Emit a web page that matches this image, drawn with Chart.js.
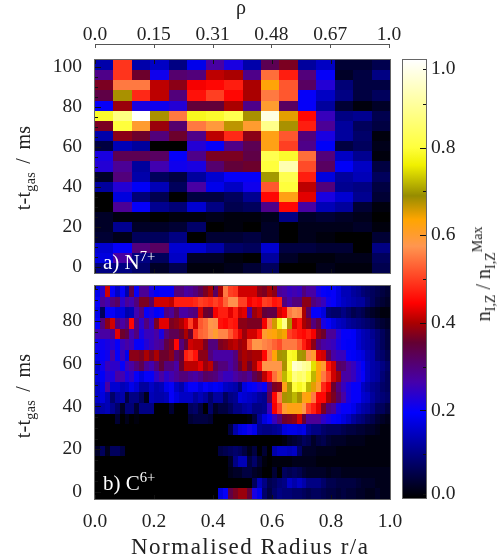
<!DOCTYPE html>
<html>
<head>
<meta charset="utf-8">
<script src="https://cdn.jsdelivr.net/npm/chart.js@4/dist/chart.umd.min.js"></script>
<style>
  html, body { margin: 0; padding: 0; background: #fff; }
  #page { position: relative; width: 498px; height: 555px; overflow: hidden; font-family: "Liberation Serif", serif; color: #222; }
  canvas { position: absolute; left: 0; }
  .lbl { position: absolute; white-space: nowrap; line-height: 1; }
  .rot { transform: translate(-50%, -50%) rotate(-90deg); font-size: 20px; }
  .wide { word-spacing: 3px; letter-spacing: 0.3px; }
  .panel { color: #fff; font-size: 21px; }
  sub, sup { font-size: 70%; line-height: 0; }
</style>
</head>
<body>
<div id="page">
  <canvas id="rhoAxis" width="498" height="60" style="top:0"></canvas>
  <canvas id="panelA" width="498" height="233" style="top:50px"></canvas>
  <canvas id="panelB" width="498" height="279" style="top:276px"></canvas>
  <canvas id="colorBar" width="103" height="460" style="top:50px;left:395px"></canvas>
  <div class="lbl rot wide" style="left:23px;top:168px">t-t<sub>gas</sub> / ms</div>
  <div class="lbl rot wide" style="left:23px;top:396px">t-t<sub>gas</sub> / ms</div>
  <div class="lbl rot" style="left:483px;top:274px">n<sub>I,Z</sub> / n<sub>I,Z</sub><sup>Max</sup></div>
  <div class="lbl panel" style="left:103px;top:252px">a) N<sup>7+</sup></div>
  <div class="lbl panel" style="left:103px;top:473px">b) C<sup>6+</sup></div>
  <div class="lbl" style="left:131px;top:535px;font-size:23px;letter-spacing:1.5px">Normalised Radius r/a</div>
  <div class="lbl" style="left:236px;top:-3px;font-size:20px">ρ</div>
</div>
<script>
/* ─── Data ──────────────────────────────────────────────────────────────── */

const rhoLabels = ['0.0', '0.15', '0.31', '0.48', '0.67', '1.0'];
const radiusTicks = [0, 0.2, 0.4, 0.6, 0.8, 1];
const timeTicksA = [0, 5, 10, 15, 20, 25, 30, 35, 40, 45, 50, 55, 60, 65, 70, 75, 80, 85, 90, 95, 100];
const timeTicksB = [0, 5, 10, 15, 20, 25, 30, 35, 40, 45, 50, 55, 60, 65, 70, 75, 80, 85, 90, 95];
const barTicks = [0.01, 0.1, 0.2, 0.3, 0.4, 0.5, 0.6, 0.7, 0.8, 0.9, 0.98];

// row centres in ms, top row first
const n7Times = [100.7, 95.7, 90.6, 85.6, 80.5, 75.5, 70.4, 65.3, 60.3, 55.2, 50.2, 45.1, 40, 35, 29.9, 24.8, 19.8, 14.7, 9.6, 4.6, -0.5];
const c6Times = [93.9, 88.9, 83.9, 78.9, 74, 69, 64, 59, 54, 49, 44.1, 39.1, 34.1, 29.1, 24.2, 19.2, 14.2, 9.2, 4.2, -0.8];

const n7Rows = [
  [.13,.49,.13,.15,.10,.18,.27,.22,.13,.33,.37,.12,.15,.04,.04,.06],
  [.29,.49,.36,.21,.31,.30,.41,.40,.29,.54,.47,.30,.20,.03,.05,.10],
  [.37,.55,.55,.41,.38,.44,.45,.47,.40,.63,.52,.32,.23,.09,.05,.05],
  [.34,.68,.48,.41,.30,.46,.50,.45,.40,.55,.52,.20,.15,.10,.05,.07],
  [.20,.39,.22,.21,.23,.35,.35,.40,.29,.60,.32,.20,.12,.04,.01,.03],
  [.79,.87,1.0,.68,.55,.78,.79,.82,.68,.97,.65,.45,.25,.10,.11,.06],
  [.37,.80,.60,.39,.31,.55,.59,.67,.60,.88,.68,.47,.28,.12,.07,.05],
  [.13,.38,.36,.30,.36,.29,.41,.48,.38,.62,.52,.30,.22,.12,.08,.01],
  [.05,.14,.12,.00,.00,.23,.20,.29,.33,.62,.50,.29,.19,.05,.07,.02],
  [.22,.33,.33,.32,.20,.29,.37,.37,.34,.82,.79,.54,.30,.15,.11,.01],
  [.23,.28,.12,.26,.21,.22,.31,.35,.36,.80,.92,.51,.32,.19,.15,.05],
  [.03,.30,.13,.07,.05,.12,.16,.20,.20,.70,.82,.47,.17,.12,.14,.07],
  [.12,.23,.19,.14,.07,.27,.18,.15,.21,.52,.80,.41,.30,.11,.10,.05],
  [.00,.17,.09,.06,.00,.05,.05,.07,.11,.45,.62,.43,.22,.16,.11,.04],
  [.00,.28,.20,.11,.09,.16,.10,.06,.07,.29,.45,.27,.14,.12,.04,.01],
  [.03,.01,.01,.00,.01,.01,.02,.01,.01,.02,.10,.03,.04,.03,.02,.00],
  [.03,.11,.03,.03,.04,.08,.00,.01,.00,.03,.00,.02,.02,.02,.03,.01],
  [.04,.02,.07,.07,.10,.00,.04,.04,.05,.03,.00,.02,.01,.00,.00,.04],
  [.16,.20,.30,.32,.16,.16,.13,.08,.07,.16,.05,.05,.04,.04,.00,.10],
  [.17,.27,.10,.07,.15,.03,.03,.01,.00,.12,.03,.01,.01,.02,.02,.07],
  [.10,.10,.08,.03,.06,.01,.01,.02,.04,.07,.00,.00,.02,.01,.01,.06]
];

const c6Rows = [
  [.18,.24,.42,.20,.15,.20,.13,.34,.20,.28,.28,.22,.19,.20,.20,.20,.30,.30,.27,.28,.30,.33,.37,.40,.32,.40,.55,.50,.49,.42,
   .42,.42,.42,.38,.37,.40,.38,.28,.27,.25,.26,.25,.30,.27,.27,.22,.20,.19,.20,.17,.14,.14,.12,.11,.09,.08,.07,.06,.05,.04],
  [.20,.28,.26,.30,.32,.24,.28,.26,.30,.37,.37,.32,.42,.42,.42,.41,.47,.47,.47,.47,.48,.50,.49,.48,.50,.48,.53,.57,.57,.50,
   .50,.44,.46,.45,.50,.49,.46,.47,.30,.27,.30,.30,.38,.38,.30,.28,.25,.21,.20,.17,.15,.14,.13,.12,.12,.09,.07,.05,.04,.03],
  [.18,.07,.20,.20,.17,.17,.13,.14,.26,.30,.20,.22,.19,.20,.30,.28,.33,.27,.27,.29,.30,.42,.36,.35,.44,.47,.47,.43,.47,.42,
   .43,.28,.39,.41,.35,.34,.34,.42,.44,.55,.57,.56,.40,.32,.20,.20,.17,.09,.08,.08,.10,.08,.06,.07,.06,.04,.03,.02,.01,.01],
  [.20,.30,.38,.42,.30,.27,.30,.45,.30,.24,.30,.25,.37,.43,.43,.37,.38,.40,.43,.50,.42,.52,.54,.58,.57,.46,.45,.47,.46,.38,
   .38,.37,.37,.37,.44,.55,.66,.78,.88,.68,.43,.46,.40,.38,.30,.34,.22,.20,.17,.15,.14,.12,.11,.10,.09,.08,.07,.05,.04,.03],
  [.26,.27,.27,.29,.43,.36,.34,.26,.30,.22,.25,.25,.27,.22,.30,.33,.33,.36,.40,.36,.49,.53,.54,.57,.60,.56,.56,.52,.48,.43,
   .39,.42,.42,.46,.60,.62,.63,.65,.64,.50,.48,.46,.45,.47,.44,.38,.36,.28,.28,.23,.20,.20,.19,.16,.14,.13,.11,.09,.07,.05],
  [.21,.21,.22,.23,.20,.25,.27,.25,.20,.20,.23,.25,.27,.28,.34,.37,.45,.30,.35,.42,.41,.41,.37,.30,.30,.37,.38,.40,.41,.39,
   .40,.52,.58,.58,.56,.55,.53,.51,.55,.55,.55,.52,.47,.43,.38,.30,.27,.26,.25,.22,.20,.19,.19,.16,.14,.13,.12,.09,.07,.05],
  [.18,.20,.21,.27,.20,.25,.18,.38,.38,.37,.40,.37,.40,.36,.36,.38,.32,.35,.47,.49,.46,.38,.38,.30,.27,.27,.27,.27,.30,.38,
   .40,.39,.40,.40,.45,.55,.63,.68,.70,.79,.78,.70,.68,.57,.60,.43,.42,.33,.27,.25,.25,.20,.19,.18,.17,.14,.13,.09,.08,.06],
  [.16,.21,.25,.24,.24,.20,.25,.27,.30,.33,.28,.26,.30,.35,.30,.30,.27,.36,.41,.41,.41,.43,.39,.41,.33,.30,.30,.27,.30,.36,
   .40,.36,.40,.46,.58,.58,.58,.58,.68,.80,.95,.93,.90,.88,.75,.63,.60,.46,.42,.32,.31,.27,.25,.22,.19,.15,.13,.12,.10,.08],
  [.17,.19,.23,.22,.27,.26,.22,.24,.20,.17,.20,.20,.24,.27,.24,.26,.28,.30,.30,.28,.27,.29,.32,.31,.30,.27,.25,.25,.27,.29,
   .30,.28,.33,.36,.41,.46,.54,.60,.72,.78,.87,.84,.86,.80,.72,.63,.55,.50,.42,.39,.27,.27,.25,.22,.20,.15,.13,.12,.09,.07],
  [.15,.18,.27,.16,.16,.14,.15,.18,.16,.12,.12,.15,.13,.14,.18,.20,.15,.13,.17,.20,.20,.17,.20,.18,.19,.18,.15,.14,.13,.09,
   .17,.19,.20,.22,.20,.30,.37,.38,.62,.70,.80,.78,.80,.72,.65,.60,.48,.44,.36,.30,.25,.22,.20,.20,.15,.13,.11,.10,.08,.07],
  [.15,.17,.14,.08,.12,.13,.05,.10,.10,.07,.02,.14,.13,.13,.14,.20,.17,.15,.15,.15,.12,.14,.12,.08,.12,.12,.07,.10,.11,.17,
   .16,.15,.14,.12,.11,.33,.45,.55,.68,.70,.72,.68,.62,.63,.55,.45,.45,.40,.37,.32,.27,.22,.20,.20,.16,.15,.12,.10,.09,.08],
  [.12,.13,.14,.11,.08,.03,.09,.09,.04,.10,.10,.10,.00,.00,.00,.04,.00,.00,.00,.07,.08,.05,.00,.08,.03,.05,.05,.07,.10,.10,
   .12,.13,.10,.10,.11,.25,.44,.50,.60,.62,.62,.62,.58,.50,.47,.43,.37,.30,.28,.22,.20,.20,.18,.15,.13,.12,.10,.07,.07,.05],
  [.00,.00,.00,.00,.04,.00,.02,.00,.01,.00,.00,.00,.00,.00,.00,.00,.00,.00,.00,.04,.05,.05,.05,.04,.00,.00,.00,.00,.00,.00,
   .00,.01,.05,.12,.17,.20,.25,.30,.36,.37,.38,.42,.35,.28,.28,.28,.24,.22,.20,.19,.17,.15,.12,.10,.09,.07,.06,.04,.03,.02],
  [.00,.00,.00,.00,.00,.00,.00,.00,.00,.00,.00,.00,.00,.00,.00,.00,.00,.00,.00,.00,.00,.00,.00,.00,.00,.00,.00,.05,.13,.17,
   .18,.21,.18,.11,.10,.10,.11,.12,.17,.18,.18,.17,.18,.12,.10,.10,.08,.07,.07,.07,.06,.05,.05,.04,.04,.03,.03,.02,.01,.01],
  [.00,.00,.00,.00,.00,.00,.00,.00,.00,.00,.00,.00,.00,.00,.00,.00,.00,.00,.00,.00,.00,.00,.00,.00,.00,.00,.00,.00,.00,.00,
   .00,.00,.00,.00,.00,.00,.00,.00,.01,.03,.04,.05,.07,.06,.03,.05,.06,.04,.03,.03,.03,.02,.02,.02,.02,.01,.01,.01,.01,.01],
  [.03,.07,.02,.07,.07,.05,.00,.00,.00,.00,.00,.00,.00,.00,.00,.00,.00,.00,.00,.00,.00,.00,.00,.00,.00,.05,.06,.07,.08,.07,
   .05,.02,.05,.00,.04,.00,.13,.15,.15,.14,.15,.08,.03,.03,.03,.02,.02,.02,.02,.01,.01,.01,.01,.01,.01,.01,.01,.01,.01,.01],
  [.00,.00,.00,.00,.00,.00,.00,.00,.00,.00,.00,.00,.00,.00,.00,.00,.00,.00,.00,.00,.00,.00,.00,.00,.00,.00,.00,.03,.10,.14,
   .14,.05,.08,.04,.01,.00,.01,.01,.01,.01,.02,.02,.02,.02,.02,.01,.01,.01,.01,.01,.01,.01,.01,.01,.01,.01,.01,.01,.01,.01],
  [.00,.00,.00,.00,.00,.00,.00,.00,.00,.00,.00,.00,.00,.00,.00,.00,.00,.00,.00,.00,.00,.00,.00,.00,.00,.00,.00,.02,.03,.03,
   .05,.05,.03,.02,.00,.00,.04,.00,.07,.06,.07,.06,.04,.03,.03,.03,.03,.02,.03,.03,.02,.02,.02,.02,.02,.02,.02,.02,.02,.02],
  [.00,.00,.00,.00,.00,.00,.00,.00,.00,.00,.00,.00,.00,.00,.00,.00,.00,.00,.00,.00,.00,.00,.00,.00,.00,.00,.00,.00,.00,.00,
   .00,.00,.07,.14,.10,.06,.07,.09,.10,.15,.13,.15,.13,.10,.10,.10,.08,.06,.06,.05,.05,.05,.05,.04,.03,.03,.03,.02,.02,.02],
  [.00,.00,.00,.00,.00,.00,.00,.00,.00,.00,.00,.00,.00,.00,.00,.00,.00,.00,.00,.00,.00,.00,.00,.00,.00,.17,.20,.34,.37,.39,
   .39,.35,.22,.18,.08,.05,.08,.10,.09,.09,.08,.08,.07,.06,.07,.07,.06,.05,.05,.04,.05,.04,.04,.03,.03,.02,.02,.03,.02,.02]
];

// colour table
const cmapLevels = [0, 0.195, 0.265, 0.355, 0.4, 0.445, 0.575, 0.636, 0.69, 0.76, 0.8, 1];
const cmapColors = [[0,0,0],[0,0,255],[70,0,170],[100,0,50],[170,0,0],[255,0,0],[255,150,80],[255,165,0],[150,140,0],[240,240,0],[255,255,60],[255,255,255]];

/* ─── Helpers ───────────────────────────────────────────────────────────── */

const tickFont = { family: '"Liberation Serif", serif', size: 19.5 };
const textCol = '#222';
const frameCol = '#666';

function cmap(v) {
    let i = 1;
    while (i < cmapLevels.length - 1 && v > cmapLevels[i]) i++;
    const f = Math.min(1, Math.max(0, (v - cmapLevels[i - 1]) / (cmapLevels[i] - cmapLevels[i - 1])));
    const a = cmapColors[i - 1], b = cmapColors[i];
    return `rgb(${a[0] + (b[0] - a[0]) * f},${a[1] + (b[1] - a[1]) * f},${a[2] + (b[2] - a[2]) * f})`;
}

function toCells(rows, times) {
    const pts = [];
    rows.forEach((row, i) => row.forEach((v, j) => {
        pts.push({ x: (j + 0.5) / row.length, y: times[i], v });
    }));
    return pts;
}

// paints one rectangle per point, through the chart's own scales
const heatCells = {
    id: 'heatCells',
    beforeDatasetsDraw(chart, args, opts) {
        if (!opts.rows) return;
        const { ctx, chartArea: a, scales: { x, y } } = chart;
        const dx = 0.5 / opts.rows[0].length, dy = opts.step / 2;
        ctx.save();
        ctx.beginPath();
        ctx.rect(a.left, a.top, a.right - a.left, a.bottom - a.top);
        ctx.clip();
        chart.data.datasets[0].data.forEach(p => {
            const l = Math.round(x.getPixelForValue(p.x - dx)), r = Math.round(x.getPixelForValue(p.x + dx));
            const t = Math.round(y.getPixelForValue(p.y + dy)), b = Math.round(y.getPixelForValue(p.y - dy));
            ctx.fillStyle = cmap(p.v);
            // one spare pixel downward, the next row paints over it
            ctx.fillRect(l, t, r - l, b - t + 1);
        });
        ctx.restore();
    }
};

// ticks that point inward, plus the frame round the plot
const innerTicks = {
    id: 'innerTicks',
    afterDatasetsDraw(chart, args, opts) {
        const { ctx, chartArea: a, scales } = chart;
        ctx.save();
        ctx.lineWidth = 1;
        ctx.strokeStyle = opts.color || '#111';
        ctx.beginPath();
        (opts.x || []).forEach(side => {
            const yy = side === 'top' ? a.top : a.bottom;
            const d = side === 'top' ? 4 : -4;
            scales.x.ticks.forEach(t => {
                const px = Math.round(scales.x.getPixelForValue(t.value)) + 0.5;
                ctx.moveTo(px, yy);
                ctx.lineTo(px, yy + d);
            });
        });
        if (opts.yStep) {
            const right = opts.ySide === 'right';
            scales.y.ticks.forEach(t => {
                const major = Math.abs(t.value / opts.yStep - Math.round(t.value / opts.yStep)) < 1e-6;
                const len = major ? 6 : 3;
                const py = Math.round(scales.y.getPixelForValue(t.value)) + 0.5;
                ctx.moveTo(right ? a.right : a.left, py);
                ctx.lineTo(right ? a.right - len : a.left + len, py);
            });
        }
        ctx.stroke();
        if (opts.frame) {
            ctx.strokeStyle = frameCol;
            ctx.strokeRect(a.left - 0.5, a.top - 0.5, a.right - a.left + 1, a.bottom - a.top + 1);
        }
        ctx.restore();
    }
};

Chart.register(heatCells, innerTicks);

function baseOpts() {
    return {
        responsive: false,
        animation: false,
        events: [],
        plugins: { legend: { display: false }, tooltip: { enabled: false } }
    };
}

// keep the chart area exactly where the layout padding puts it
function noEdgePadding(s) {
    s.paddingTop = 0;
    s.paddingBottom = 0;
    s.paddingLeft = 0;
    s.paddingRight = 0;
}

function heatChart(id, rows, times, ticks, yMin, yMax, xAxis, padding) {
    const opts = baseOpts();
    opts.layout = { padding };
    opts.plugins.heatCells = { rows, step: (times[0] - times[times.length - 1]) / (times.length - 1) };
    opts.plugins.innerTicks = { x: ['top', 'bottom'], yStep: 20, frame: true };
    opts.scales = {
        x: Object.assign({ type: 'linear', min: 0, max: 1, border: { display: false }, grid: { display: false, drawTicks: false },
            afterBuildTicks: s => { s.ticks = radiusTicks.map(v => ({ value: v })); } }, xAxis),
        y: {
            type: 'linear', min: yMin, max: yMax,
            border: { display: false },
            grid: { display: false, drawTicks: false },
            afterBuildTicks: s => { s.ticks = ticks.map(v => ({ value: v })); },
            afterFit: s => { s.width = 95; noEdgePadding(s); },
            ticks: { font: tickFont, color: textCol, padding: 13, autoSkip: false, maxRotation: 0,
                callback: v => (v % 20 === 0 ? String(v) : '') }
        }
    };
    return new Chart(document.getElementById(id), {
        type: 'scatter',
        data: { datasets: [{ data: toCells(rows, times), pointRadius: 0 }] },
        options: opts
    });
}

/* ─── Charts ────────────────────────────────────────────────────────────── */

// free-standing rho axis above the first panel
const rhoOpts = baseOpts();
rhoOpts.layout = { padding: { left: 95, right: 109 } };
rhoOpts.plugins.innerTicks = { x: ['top'], color: '#555' };
rhoOpts.scales = {
    x: {
        type: 'linear', position: 'top', min: 0, max: 1,
        border: { color: '#555' },
        grid: { display: false, drawTicks: false },
        afterBuildTicks: s => { s.ticks = radiusTicks.map(v => ({ value: v })); },
        afterFit: s => { s.height = 44; noEdgePadding(s); },
        ticks: { font: tickFont, color: textCol, padding: -3, autoSkip: false, maxRotation: 0,
            callback: (v, i) => rhoLabels[i] }
    },
    y: { display: false, min: 0, max: 1 }
};
new Chart(document.getElementById('rhoAxis'), {
    type: 'scatter',
    data: { datasets: [{ data: [], pointRadius: 0 }] },
    options: rhoOpts
});

heatChart('panelA', n7Rows, n7Times, timeTicksA, -3, 103.25, {
    ticks: { display: false },
    afterFit: s => { s.height = 0; noEdgePadding(s); }
}, { left: 0, right: 108, top: 10, bottom: 10 });

heatChart('panelB', c6Rows, c6Times, timeTicksB, -3.3, 96.4, {
    afterFit: s => { s.height = 56; noEdgePadding(s); },
    ticks: { font: tickFont, color: textCol, padding: 11, autoSkip: false, maxRotation: 0,
        callback: v => v.toFixed(1) }
}, { left: 0, right: 108, top: 10, bottom: 0 });

// colour bar: one floating bar painted with the colour table
const barOpts = baseOpts();
barOpts.layout = { padding: { left: 8, top: 10, bottom: 12 } };
barOpts.plugins.innerTicks = { yStep: 0.2, ySide: 'right', frame: true };
barOpts.scales = {
    x: { display: false, type: 'category' },
    y: {
        type: 'linear', position: 'right', min: 0, max: 1,
        border: { display: false },
        grid: { display: false, drawTicks: false },
        afterBuildTicks: s => { s.ticks = barTicks.map(v => ({ value: v })); },
        afterFit: s => { s.width = 72; noEdgePadding(s); },
        ticks: { font: tickFont, color: textCol, padding: 5, autoSkip: false, maxRotation: 0,
            callback: v => {
                if (v < 0.05) return '0.0';
                if (v > 0.95) return '1.0';
                return Math.round(v * 10) % 2 === 0 ? v.toFixed(1) : '';
            } }
    }
};
new Chart(document.getElementById('colorBar'), {
    type: 'bar',
    data: {
        labels: ['scale'],
        datasets: [{
            data: [[0, 1]],
            barPercentage: 1,
            categoryPercentage: 1,
            backgroundColor: c => {
                const a = c.chart.chartArea;
                if (!a) return '#000';
                const g = c.chart.ctx.createLinearGradient(0, a.bottom, 0, a.top);
                cmapLevels.forEach((lv, i) => g.addColorStop(lv, `rgb(${cmapColors[i].join(',')})`));
                return g;
            }
        }]
    },
    options: barOpts
});
</script>
</body>
</html>
